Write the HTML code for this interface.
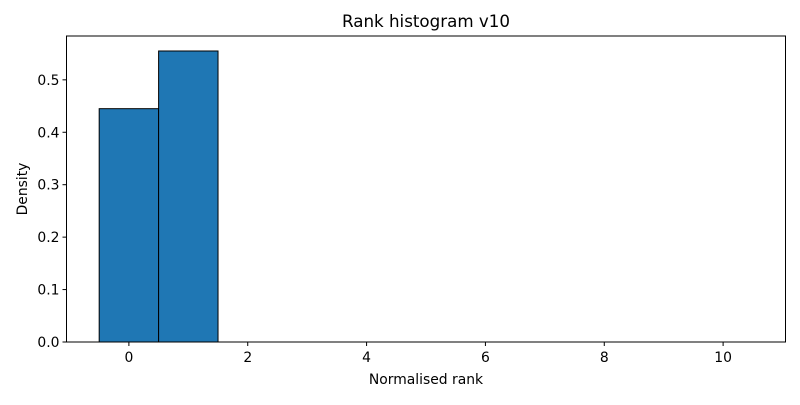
<!DOCTYPE html>
<html><head><meta charset="utf-8"><style>
body{margin:0;background:#fff;}
svg text{font-family:"DejaVu Sans","Liberation Sans",sans-serif;fill:#000;}
</style></head><body>
<svg width="800" height="400" xmlns="http://www.w3.org/2000/svg">
<rect width="800" height="400" fill="#fff"/>
<text x="426" y="27" font-size="16.7" text-anchor="middle">Rank histogram v10</text>
<g id="bars"></g>
<g id="axes"></g>
<text x="426" y="384" font-size="13.9" text-anchor="middle">Normalised rank</text>
<text transform="translate(27,189) rotate(-90)" font-size="13.9" text-anchor="middle">Density</text>
</svg>
<script>
const categories=[0,1,2,3,4,5,6,7,8,9,10];
const densities=[0.445,0.555,0,0,0,0,0,0,0,0,0];
const xTicks=[0,2,4,6,8,10];
const yTicks=[0.0,0.1,0.2,0.3,0.4,0.5];
const yTickLabels=["0.0","0.1","0.2","0.3","0.4","0.5"];
const L=66.5,R=785.5,T=36,B=342;
const xMin=-1.05,xMax=11.05,yMax=0.5836;
const xs=v=>L+(v-xMin)/(xMax-xMin)*(R-L);
const ys=v=>B-v/yMax*(B-T);
const NS="http://www.w3.org/2000/svg";
const bars=document.getElementById('bars'),axes=document.getElementById('axes');
categories.forEach((c,i)=>{
  const r=document.createElementNS(NS,'rect');
  const x0=xs(c-0.5),x1=xs(c+0.5),y=ys(densities[i]);
  r.setAttribute('x',x0);r.setAttribute('y',y);
  r.setAttribute('width',x1-x0);r.setAttribute('height',Math.max(0,B-y));
  r.setAttribute('fill','#1f77b4');r.setAttribute('stroke','#000');r.setAttribute('stroke-width','1');
  
  
  bars.appendChild(r);
});
const frame=document.createElementNS(NS,'rect');
frame.setAttribute('x',L);frame.setAttribute('y',T);frame.setAttribute('width',R-L);frame.setAttribute('height',B-T);
frame.setAttribute('fill','none');frame.setAttribute('stroke','#000');frame.setAttribute('stroke-width','1');


axes.appendChild(frame);
xTicks.forEach(t=>{
  const x=xs(t);
  const l=document.createElementNS(NS,'line');
  l.setAttribute('x1',x);l.setAttribute('x2',x);l.setAttribute('y1',B);l.setAttribute('y2',B+4);l.setAttribute('stroke','#000');
  
  
  axes.appendChild(l);
  const tx=document.createElementNS(NS,'text');
  tx.setAttribute('x',x);tx.setAttribute('y',B+20);tx.setAttribute('font-size','13.9');tx.setAttribute('text-anchor','middle');
  tx.textContent=t;
  
  
  axes.appendChild(tx);
});
yTicks.forEach((t,i)=>{
  const y=ys(t);
  const l=document.createElementNS(NS,'line');
  l.setAttribute('x1',L-4);l.setAttribute('x2',L);l.setAttribute('y1',y);l.setAttribute('y2',y);l.setAttribute('stroke','#000');
  
  
  axes.appendChild(l);
  const tx=document.createElementNS(NS,'text');
  tx.setAttribute('x',L-7);tx.setAttribute('y',y+5);tx.setAttribute('font-size','13.9');tx.setAttribute('text-anchor','end');
  tx.textContent=yTickLabels[i];
  
  
  axes.appendChild(tx);
});
</script>
</body></html>
